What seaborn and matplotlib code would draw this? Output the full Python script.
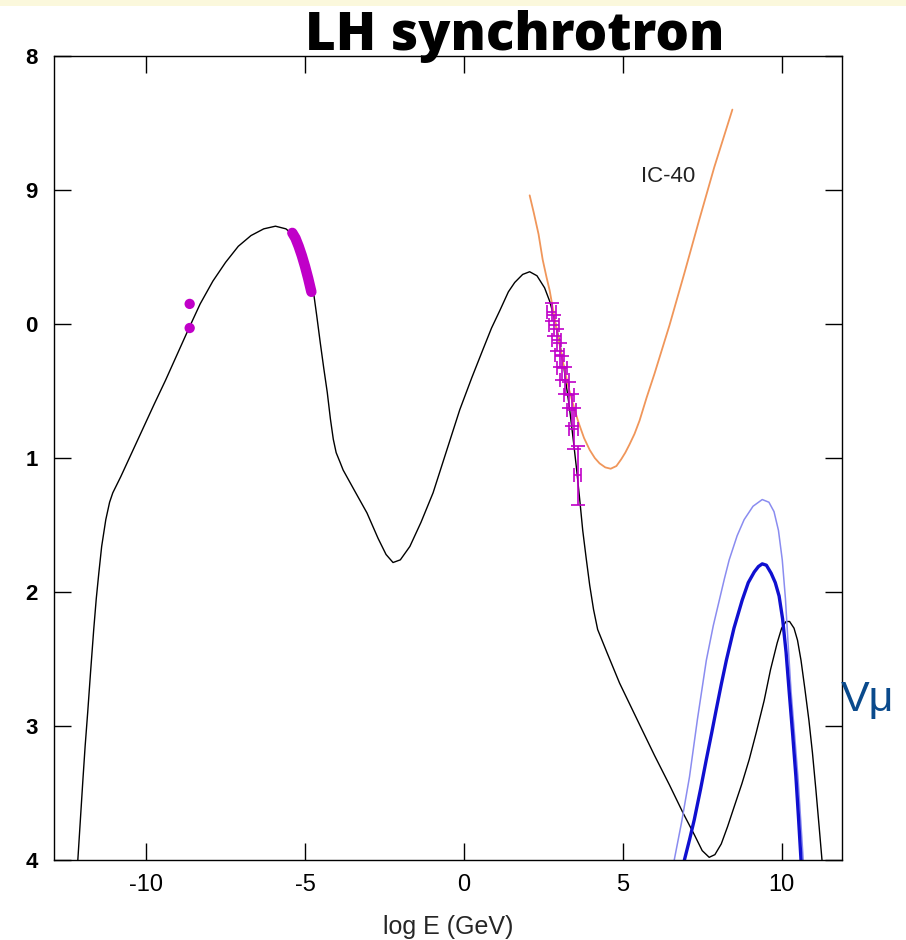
import matplotlib
matplotlib.use("Agg")
import matplotlib.pyplot as plt
import seaborn as sns
import pandas as pd
from matplotlib.patches import Rectangle

# ---- data: log E (GeV) vs log flux ----
sed_x = [-12.15, -12.07, -11.99, -11.92, -11.84, -11.75, -11.65, -11.57, -11.49, -11.40,
         -11.27, -11.15, -11.05, -10.80, -10.45, -10.10, -9.75, -9.39, -9.03, -8.67,
         -8.30, -7.90, -7.50, -7.10, -6.70, -6.30, -5.93, -5.60, -5.40, -5.20,
         -5.00, -4.85, -4.74, -4.63, -4.52, -4.41, -4.30, -4.20, -4.11, -4.02,
         -3.90, -3.80, -3.45, -3.05, -2.70, -2.45, -2.23, -2.00, -1.70, -1.35, -0.97,
         -0.55, -0.13, 0.25, 0.60, 0.87, 1.13, 1.40, 1.60, 1.85, 2.07,
         2.30, 2.54, 2.70, 2.85, 3.00, 3.15, 3.33, 3.45, 3.55, 3.65,
         3.74, 3.85, 3.96, 4.08, 4.21, 4.50, 4.90, 5.53, 6.00, 6.47,
         6.90, 7.25, 7.50, 7.72, 7.90, 8.10, 8.30, 8.51, 8.75, 8.98,
         9.20, 9.45, 9.65, 9.86, 10.00, 10.14, 10.25, 10.39, 10.50, 10.61,
         10.73, 10.86, 10.97, 11.08, 11.18, 11.27]
sed_y = [-14.00, -13.70, -13.40, -13.15, -12.90, -12.60, -12.28, -12.05, -11.86, -11.66,
         -11.46, -11.33, -11.26, -11.14, -10.96, -10.78, -10.60, -10.42, -10.23, -10.04,
         -9.85, -9.68, -9.54, -9.42, -9.34, -9.29, -9.27, -9.29, -9.33, -9.41,
         -9.52, -9.63, -9.75, -9.94, -10.14, -10.33, -10.51, -10.71, -10.86, -10.96,
         -11.03, -11.09, -11.24, -11.41, -11.60, -11.72, -11.78, -11.76, -11.66, -11.48, -11.26,
         -10.95, -10.64, -10.40, -10.19, -10.03, -9.90, -9.76, -9.69, -9.63, -9.61,
         -9.64, -9.73, -9.83, -9.96, -10.12, -10.33, -10.64, -10.88, -11.09, -11.32,
         -11.54, -11.75, -11.95, -12.13, -12.28, -12.45, -12.68, -12.99, -13.22, -13.44,
         -13.65, -13.81, -13.93, -13.98, -13.96, -13.88, -13.75, -13.60, -13.43, -13.25,
         -13.05, -12.81, -12.58, -12.38, -12.27, -12.22, -12.22, -12.27, -12.36, -12.51,
         -12.72, -12.96, -13.20, -13.48, -13.75, -14.00]

ic40_x = [2.07, 2.20, 2.35, 2.48, 2.60, 2.70, 2.85, 3.00, 3.15, 3.30, 3.45, 3.60,
          3.78, 3.96, 4.12, 4.27, 4.45, 4.62, 4.80, 4.95, 5.08, 5.21, 5.37, 5.53,
          5.75, 6.00, 6.47, 6.94, 7.41, 7.88, 8.45]
ic40_y = [-9.04, -9.17, -9.33, -9.52, -9.65, -9.75, -9.95, -10.14, -10.32, -10.48, -10.61, -10.73,
          -10.85, -10.94, -11.00, -11.04, -11.07, -11.08, -11.06, -11.01, -10.96, -10.90, -10.82, -10.72,
          -10.55, -10.37, -10.01, -9.62, -9.22, -8.83, -8.40]

nu_x = [6.94, 7.10, 7.25, 7.45, 7.63, 7.80, 7.94, 8.10, 8.26, 8.50, 8.76, 8.95, 9.14,
        9.27, 9.39, 9.52, 9.67, 9.80, 9.92, 10.03, 10.14, 10.24, 10.35, 10.45, 10.53, 10.61]
nu_y = [-14.00, -13.85, -13.70, -13.47, -13.25, -13.05, -12.88, -12.69, -12.51, -12.27, -12.06, -11.93, -11.85,
        -11.81, -11.79, -11.80, -11.86, -11.93, -12.03, -12.20, -12.45, -12.75, -13.07, -13.38, -13.68, -14.00]

nu_hi_x = [6.62, 6.85, 7.10, 7.35, 7.63, 7.85, 8.04, 8.20, 8.35, 8.60, 8.82, 9.10, 9.39,
           9.60, 9.76, 9.90, 10.02, 10.12, 10.22, 10.30, 10.42, 10.52, 10.60, 10.68]
nu_hi_y = [-14.00, -13.72, -13.38, -12.95, -12.51, -12.25, -12.06, -11.90, -11.76, -11.58, -11.46, -11.36, -11.31,
           -11.33, -11.40, -11.54, -11.76, -12.05, -12.45, -12.75, -13.10, -13.40, -13.70, -14.00]

radio_x = [-8.63, -8.63]
radio_y = [-9.85, -10.03]

optical_x = [-5.40, -5.30, -5.20, -5.10, -5.00, -4.90, -4.80]
optical_y = [-9.32, -9.36, -9.42, -9.49, -9.57, -9.66, -9.76]

xray_x = [2.76, 2.83, 2.92, 3.01, 3.08, 3.17, 3.30, 3.39, 3.45, 3.58]
xray_y = [-9.91, -10.01, -10.12, -10.23, -10.33, -10.42, -10.53, -10.64, -10.78, -11.13]
xray_xerr = [0.15, 0.15, 0.15, 0.15, 0.15, 0.15, 0.15, 0.15, 0.15, 0.10]
xray_yerr = [0.07, 0.08, 0.08, 0.09, 0.09, 0.10, 0.10, 0.12, 0.15, 0.22]

x_ticks = [-10, -5, 0, 5, 10]
x_ticklabels = ["-10", "-5", "0", "5", "10"]
y_ticks = [-8, -9, -10, -11, -12, -13, -14]
y_ticklabels = ["8", "9", "0", "1", "2", "3", "4"]

# ---- figure ----
sns.set_theme(style="white")
plt.rcParams["font.family"] = ["Liberation Sans", "DejaVu Sans"]

fig = plt.figure(figsize=(9.06, 9.40), dpi=100)
ax = fig.add_axes([54 / 906, 1 - 860 / 940, (842 - 54) / 906, (860 - 56) / 940])

magenta = "#c000c8"


def draw_line(xs, ys, **kw):
    sns.lineplot(data=pd.DataFrame({"x": xs, "y": ys}), x="x", y="y", sort=False,
                 estimator=None, ax=ax, **kw)


draw_line(sed_x, sed_y, color="black", lw=1.0)
draw_line(ic40_x, ic40_y, color="#f0965a", lw=1.3)
draw_line(nu_hi_x, nu_hi_y, color="#8a8cf0", lw=1.1)
draw_line(nu_x, nu_y, color="#1010d0", lw=2.4)
draw_line(optical_x, optical_y, color=magenta, lw=7.5, solid_capstyle="round")

sns.scatterplot(data=pd.DataFrame({"x": radio_x, "y": radio_y}), x="x", y="y",
                color=magenta, s=55, edgecolor="none", ax=ax, zorder=5)
ax.errorbar(xray_x, xray_y, xerr=xray_xerr, yerr=xray_yerr, fmt="none",
            ecolor=magenta, elinewidth=1.2, capsize=5, capthick=1.2, zorder=4)

ax.set_xlim(-12.9, 11.9)
ax.set_ylim(-14, -8)
ax.set_xticks(x_ticks)
ax.set_xticklabels(x_ticklabels)
ax.set_yticks(y_ticks)
ax.set_yticklabels(y_ticklabels, fontweight="bold")
ax.tick_params(axis="both", which="both", direction="in", length=12, width=1.0,
               top=True, right=True, bottom=True, left=True,
               colors="black")
ax.tick_params(axis="x", labelsize=17, pad=10)
ax.tick_params(axis="y", labelsize=16, pad=16)
for lab in ax.get_yticklabels():
    lab.set_horizontalalignment("center")
for s in ax.spines.values():
    s.set_color("black")
    s.set_linewidth(1.0)

ax.set_xlabel("log E (GeV)", fontsize=18, labelpad=14)
ax.set_ylabel("")

ax.text(6.44, -8.90, "IC-40", fontsize=16, color="#222222", ha="center", va="center")

fig.text(0.568, 1 - 50 / 940, "LH synchrotron", fontsize=38, fontweight=800,
         family=["Open Sans", "Liberation Sans"], ha="center", va="baseline", color="black")
fig.text(841 / 906, 1 - 700 / 940, "Vμ", fontsize=31, color="#0a4a8c",
         ha="left", va="center")

# light strip along the top edge
fig.patches.append(Rectangle((0, 1 - 6 / 940), 1, 6 / 940, transform=fig.transFigure,
                             facecolor="#fbf8dc", edgecolor="none", zorder=0))

fig.savefig("out.png", dpi=100, facecolor="white")
